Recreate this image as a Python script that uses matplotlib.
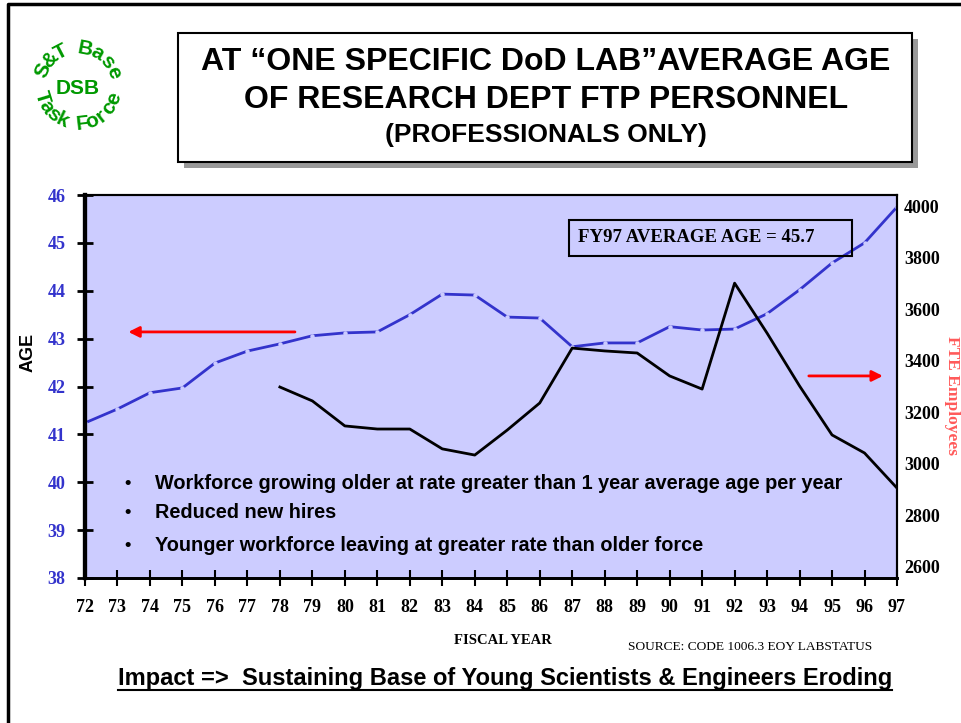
import numpy as np
import matplotlib.pyplot as plt
from matplotlib.patches import Rectangle
from matplotlib.lines import Line2D

# data
years = list(range(72, 98))
avg_age = [41.24, 41.53, 41.87, 41.97, 42.49, 42.74, 42.89, 43.06, 43.12, 43.14,
           43.50, 43.93, 43.91, 43.45, 43.43, 42.83, 42.91, 42.91, 43.25, 43.18,
           43.20, 43.52, 44.02, 44.58, 45.00, 45.75]
fte_years = list(range(78, 98))
fte = [3298, 3244, 3147, 3135, 3135, 3058, 3034, 3131, 3236, 3449,
       3438, 3430, 3341, 3290, 3701, 3507, 3302, 3112, 3042, 2906]
age_ticks = [38, 39, 40, 41, 42, 43, 44, 45, 46]
fte_ticks = [2600, 2800, 3000, 3200, 3400, 3600, 3800, 4000]
bullets = ["Workforce growing older at rate greater than 1 year average age per year",
           "Reduced new hires",
           "Younger workforce leaving at greater rate than older force"]

SERIF = 'Liberation Serif'
SANS = 'Liberation Sans'
BLUE = '#3333cc'
GREEN = '#009900'
W, H = 962, 723

fig = plt.figure(figsize=(W / 100, H / 100), dpi=100)

# overlay in pixel coordinates for slide decorations
deco = fig.add_axes([0, 0, 1, 1])
deco.set_xlim(0, W)
deco.set_ylim(H, 0)
deco.axis('off')

# slide border (left and top edges visible)
deco.add_line(Line2D([8, 8, W + 5], [H + 5, 4, 4], color='black', lw=2.5))

# title box with shadow
deco.add_patch(Rectangle((184, 39), 734, 129, facecolor='#999999', edgecolor='none'))
deco.add_patch(Rectangle((178, 33), 734, 129, facecolor='white', edgecolor='black', lw=1.5))
deco.text(546, 62, "AT \u201cONE SPECIFIC DoD LAB\u201dAVERAGE AGE", ha='center', va='center',
          fontsize=23, fontweight='bold', family=SANS)
deco.text(546, 100, "OF RESEARCH DEPT FTP PERSONNEL", ha='center', va='center',
          fontsize=23, fontweight='bold', family=SANS)
deco.text(546, 135, "(PROFESSIONALS ONLY)", ha='center', va='center',
          fontsize=19, fontweight='bold', family=SANS)


def arc_text(text, cx, cy, r, start, end, top=True, size=15):
    angles = np.linspace(start, end, len(text))
    for ch, th in zip(text, angles):
        t = np.radians(th)
        x = cx + r * np.cos(t)
        y = cy - r * np.sin(t)
        rot = th - 90 if top else th + 90
        deco.text(x, y, ch, ha='center', va='center', rotation=rot,
                  rotation_mode='anchor', fontsize=size, fontweight='bold',
                  family=SANS, color=GREEN)


# DSB logo
arc_text("S&T Base", 78, 86, 38, 156, 21, top=True)
arc_text("Task Force", 78, 86, 38, 197, 340, top=False)
deco.text(78, 88, "DSB", ha='center', va='center', fontsize=15, fontweight='bold',
          family=SANS, color=GREEN)

# main chart
left, right, top, bottom = 85, 897, 195, 578
ax = fig.add_axes([left / W, 1 - bottom / H, (right - left) / W, (bottom - top) / H])
ax.set_facecolor('#ccccff')
ax.plot(years, avg_age, color=BLUE, lw=2, zorder=2)
ax.plot(years, avg_age, 'o', color='#ccccff', ms=2.2, zorder=3)
ax.set_xlim(72, 97)
ax.set_ylim(38, 46)
ax.set_xticks(years)
ax.set_xticklabels([str(y) for y in years], family=SERIF, fontweight='bold', fontsize=13)
ax.set_yticks(age_ticks)
ax.set_yticklabels([str(v) for v in age_ticks], family=SERIF, fontweight='bold',
                   fontsize=13, color=BLUE)
ax.tick_params(axis='x', direction='inout', length=12, width=1.5, pad=9)
ax.tick_params(axis='y', direction='inout', length=12, width=2, pad=8)

ax2 = ax.twinx()
ax2.plot(fte_years, fte, color='black', lw=2, zorder=4)
ax2.set_ylim(2557, 4043)
ax2.set_yticks(fte_ticks)
ax2.set_yticklabels([str(v) for v in fte_ticks], family=SERIF, fontweight='bold', fontsize=13)
ax2.tick_params(axis='y', length=0, pad=5)

for a in (ax, ax2):
    a.spines['left'].set_linewidth(3)
    a.spines['top'].set_linewidth(1.5)
    a.spines['bottom'].set_linewidth(2)
    a.spines['right'].set_linewidth(1.5)

# arrows pointing to each axis
ax.annotate('', xy=(73.25, 43.14), xytext=(78.55, 43.14),
            arrowprops=dict(arrowstyle='-|>', color='red', lw=2, mutation_scale=16))
ax2.annotate('', xy=(96.65, 3341), xytext=(94.2, 3341),
             arrowprops=dict(arrowstyle='-|>', color='red', lw=2, mutation_scale=16))

# FY97 callout
ax2.add_patch(Rectangle((0.596, 0.841), 0.349, 0.094, transform=ax2.transAxes,
                        facecolor='none', edgecolor='black', lw=1.5, zorder=5))
ax2.text(0.607, 0.888, "FY97 AVERAGE AGE = 45.7", transform=ax2.transAxes,
         ha='left', va='center', fontsize=13.5, fontweight='bold', family=SERIF, zorder=6)

# bullets
for yy, b in zip([0.248, 0.170, 0.086], bullets):
    ax2.text(0.052, yy, "\u2022", transform=ax2.transAxes, ha='center', va='center',
             fontsize=13, fontweight='bold', family=SANS)
    ax2.text(0.086, yy, b, transform=ax2.transAxes, ha='left', va='center',
             fontsize=14.3, fontweight='bold', family=SANS)

# axis titles
deco.text(28, 352, "AGE", rotation=90, ha='center', va='center', fontsize=13,
          fontweight='bold', family=SANS)
deco.text(952, 395, "FTE Employees", rotation=-90, ha='center', va='center', fontsize=12.5,
          fontweight='bold', family=SERIF, color='#ff5a5a')
deco.text(503, 641, "FISCAL YEAR", ha='center', va='center', fontsize=10.5,
          fontweight='bold', family=SERIF)
deco.text(628, 647, "SOURCE: CODE 1006.3 EOY LABSTATUS", ha='left', va='center',
          fontsize=9.6, family=SERIF)
imp = deco.text(505, 678, "Impact =>  Sustaining Base of Young Scientists & Engineers Eroding",
                ha='center', va='center', fontsize=17, fontweight='bold', family=SANS)

# underline the impact line
fig.canvas.draw()
bb = imp.get_window_extent().transformed(deco.transData.inverted())
deco.add_line(Line2D([bb.x0, bb.x1], [690, 690], color='black', lw=1.5))

fig.savefig('out.png', dpi=100)
